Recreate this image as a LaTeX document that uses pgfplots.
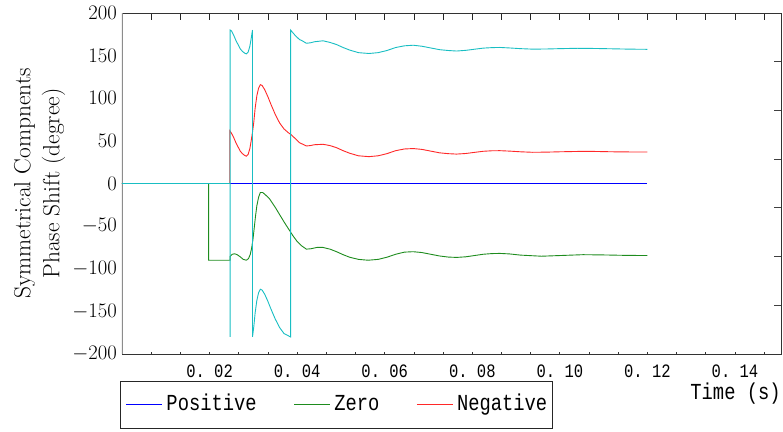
\documentclass[border=0pt]{standalone}
\usepackage{fontspec}
\usepackage{pgfplots}
\pgfplotsset{compat=1.18}
\newfontfamily\simfont[FakeStretch=0.82]{Liberation Mono}
\definecolor{cPos}{RGB}{0,0,255}
\definecolor{cZero}{RGB}{30,140,30}
\definecolor{cNeg}{RGB}{255,40,40}
\definecolor{cCyan}{RGB}{25,190,195}

\pgfplotstableread{
t v
0 0
0.0246 0
0.0246 62
0.0250 59
0.0255 54
0.0260 48
0.0265 43
0.0270 38
0.0275 35
0.0280 33
0.0284 32
0.0288 34
0.0292 41
0.0295 50
0.0298 60
0.0301 72
0.0304 88
0.0308 103
0.0312 112
0.0316 116
0.0320 115
0.0326 110
0.0333 102
0.0340 93
0.0350 81
0.0360 71
0.0370 64
0.0380 59.5
0.0387 57
0.0395 53
0.0405 48
0.0413 46
0.0421 44
0.0430 44.5
0.0440 45.5
0.0459 46
0.0475 44.5
0.0490 42
0.0505 38.5
0.0520 35.5
0.0540 32.5
0.0564 31.5
0.0585 32.5
0.0605 35
0.0625 38.5
0.0645 40.5
0.0665 41
0.0685 40
0.0705 38
0.0725 36
0.0745 35
0.0764 34.5
0.0785 35.2
0.0805 36.5
0.0825 37.8
0.0845 38.4
0.0863 38.5
0.0885 38
0.0910 37.2
0.0938 36.6
0.0970 36.8
0.1000 37.2
0.1040 37.6
0.1080 37.6
0.1120 37.2
0.1160 37
0.1200 37
}\negtab

\pgfplotstableread{
t v
0 0
0.0247 0
0.0247 -180
0.0247 180
0.0250 179
0.0255 174
0.0260 168
0.0265 163
0.0270 158
0.0275 155
0.0280 153
0.0284 152
0.0288 154
0.0292 161
0.0295 170
0.0298 180
0.0298 -180
0.0301 -168
0.0304 -152
0.0308 -137
0.0312 -128
0.0316 -124
0.0320 -125
0.0326 -130
0.0333 -138
0.0340 -147
0.0350 -159
0.0360 -169
0.0370 -176
0.0385 -180
0.0385 180
0.0395 174
0.0405 169
0.0413 167
0.0421 164.5
0.0430 165
0.0440 166.3
0.0459 167.4
0.0475 165.5
0.0490 163
0.0505 159.5
0.0520 156.5
0.0540 153.5
0.0564 152.5
0.0585 153.5
0.0605 156
0.0625 159.5
0.0645 161.5
0.0665 162.2
0.0685 161
0.0705 159
0.0725 157
0.0745 156
0.0764 155.4
0.0785 156.2
0.0805 157.5
0.0825 158.8
0.0845 159.4
0.0863 159.6
0.0885 159
0.0910 158.2
0.0938 157.6
0.0970 157.8
0.1000 158.2
0.1040 158.6
0.1080 158.4
0.1120 158
0.1160 157.6
0.1200 157.4
}\cyantab

\pgfplotstableread{
t v
0 0
0.0198 0
0.0198 -90
0.0247 -90
0.0247 -85.5
0.0252 -83
0.0257 -82.4
0.0263 -83.5
0.0270 -86
0.0277 -89
0.0284 -90
0.0289 -88
0.0293 -83
0.0296 -76
0.0299 -66
0.0302 -52
0.0305 -38
0.0308 -26
0.0312 -16
0.0316 -10.5
0.0321 -10.5
0.0327 -13
0.0337 -18
0.0350 -28
0.0360 -36.5
0.0370 -45
0.0380 -53
0.0390 -61
0.0400 -68
0.0410 -73
0.0421 -77
0.0432 -76.5
0.0445 -75
0.0459 -75
0.0475 -77
0.0490 -80
0.0505 -83.5
0.0520 -86.5
0.0540 -89
0.0562 -90
0.0585 -89
0.0605 -86.5
0.0625 -83
0.0645 -80.5
0.0665 -80
0.0685 -81
0.0705 -83
0.0725 -85
0.0745 -86.3
0.0764 -86.7
0.0785 -86
0.0805 -84.5
0.0825 -83
0.0845 -82.2
0.0863 -82
0.0885 -82.6
0.0910 -84
0.0958 -85.3
0.1000 -84.5
0.1053 -83.5
0.1100 -83.8
0.1150 -84.3
0.1200 -84.5
}\zerotab

\begin{document}
\begin{tikzpicture}
\useasboundingbox (-122bp,-78bp) rectangle (661bp,354bp);
\begin{axis}[
  width=659bp, height=341bp, scale only axis,
  xmin=0, xmax=0.1505, ymin=-200, ymax=200,
  axis line style={draw=black!80, line width=0.9bp},
  xtick={0,0.02,0.04,0.06,0.08,0.1,0.12,0.14},
  xticklabels={,0.\ 02,0.\ 04,0.\ 06,0.\ 08,0.\ 10,0.\ 12,0.\ 14},
  minor xtick={0.006667,0.013333,0.026667,0.033333,0.046667,0.053333,0.066667,0.073333,0.086667,0.093333,0.106667,0.113333,0.126667,0.133333,0.146667},
  xtick pos=right, xticklabel pos=left,
  tick align=inside, major tick length=7bp, minor tick length=7bp,
  xtick style={black!85, line width=0.8bp},
  xticklabel style={font=\fontsize{19}{22}\selectfont\simfont, anchor=base, yshift=-23bp},
  ytick={-200,-150,-100,-50,0,50,100,150,200},
  ytick style={draw=none},
  yticklabel style={font=\fontsize{22}{26}\selectfont, anchor=east, inner sep=0pt, xshift=-5bp},
  ylabel={Symmetrical Compnents\\Phase Shift (degree)},
  ylabel style={font=\fontsize{23.5}{29}\selectfont, align=center, at={(axis description cs:-0.125,0.5)}, anchor=center},
  xlabel={Time (s)},
  xlabel style={font=\fontsize{23}{26}\selectfont\simfont, at={(axis description cs:0.931,-0.132)}, anchor=base},
  legend columns=3,
  legend style={at={(0,0)}, anchor=north west, xshift=-1.5bp, yshift=-27bp,
    draw=black!85, line width=0.8bp, inner xsep=5bp, inner ysep=13bp,
    font=\fontsize{23}{26}\selectfont\simfont,
    column sep=3.7bp,
    /tikz/every even column/.append style={column sep=37bp},
    nodes={inner sep=0pt, text height=16bp, text depth=5bp}},
  legend cell align=left,
  legend image code/.code={\draw[#1, line width=0.9bp] (0bp,0bp) -- (36bp,0bp);},
]
\draw[black!45, line width=1.6bp] (rel axis cs:0,0) -- (rel axis cs:0,1);
\pgfplotsinvokeforeach{1,2,3,4,5,6}{\draw[black!75, line width=0.8bp] (rel axis cs:1,#1/7) -- ++(-7bp,0bp);}
\pgfplotsinvokeforeach{1,2,...,22}{\draw[black!80, line width=0.8bp] (rel axis cs:#1*0.044297,0) -- ++(0bp,2.5bp);}
\addplot[draw=cPos, color=cPos, line width=1.3bp] coordinates {(0,0) (0.06,0) (0.12,0)};
\addlegendentry{Positive}
\addplot[color=cZero, line width=0.9bp] table[x=t, y=v] {\zerotab};
\addlegendentry{Zero}
\addplot[color=cNeg, line width=0.9bp] table[x=t, y=v] {\negtab};
\addlegendentry{Negative}
\addplot[color=cCyan, line width=0.9bp, forget plot] table[x=t, y=v] {\cyantab};
\end{axis}
\end{tikzpicture}
\end{document}
